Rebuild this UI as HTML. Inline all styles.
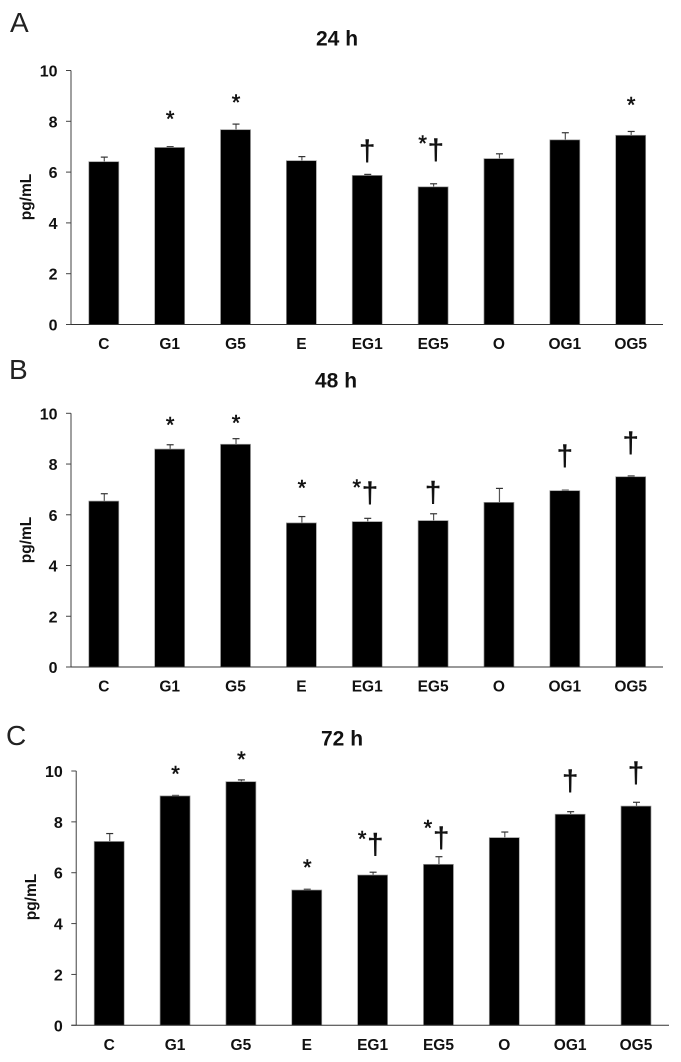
<!DOCTYPE html>
<html>
<head>
<meta charset="utf-8">
<title>pg/mL by group at 24, 48 and 72 h</title>
<style>
html,body{margin:0;padding:0;background:#fff;}
svg{display:block;}
text{font-family:"Liberation Sans",Arial,sans-serif;fill:#111;}
.b{font-weight:bold;}
.sig{stroke:#111;stroke-width:0.5px;}
</style>
</head>
<body>
<svg id="fig" xmlns="http://www.w3.org/2000/svg" width="681" height="1062" viewBox="0 0 681 1062"></svg>
<script>
var categories = ["C","G1","G5","E","EG1","EG5","O","OG1","OG5"];
var tickValues = [0,2,4,6,8,10];

var panelLetters = ["A","B","C"];
var panelTitles = ["24 h","48 h","72 h"];

var means24 = [6.41,6.97,7.67,6.45,5.87,5.42,6.53,7.27,7.45];
var upper24 = [6.59,7.00,7.89,6.61,5.91,5.54,6.72,7.55,7.60];
var star24 = [null,8.18,8.83,null,null,7.22,null,null,8.75];
var dagger24 = [null,null,null,null,6.87,6.90,null,null,null];

var means48 = [6.54,8.59,8.78,5.68,5.73,5.77,6.49,6.95,7.50];
var upper48 = [6.83,8.76,9.00,5.93,5.86,6.04,7.04,6.97,7.53];
var star48 = [null,9.63,9.71,7.15,7.18,null,null,null,null];
var dagger48 = [null,null,null,null,6.90,6.92,null,8.36,8.86];

var means72 = [7.23,9.02,9.58,5.32,5.91,6.33,7.38,8.30,8.62];
var upper72 = [7.54,9.04,9.65,5.35,6.02,6.63,7.60,8.40,8.77];
var star72 = [null,9.99,10.55,6.30,7.43,7.86,null,null,null];
var dagger72 = [null,null,null,null,7.15,7.41,null,9.65,9.97];

var NS = "http://www.w3.org/2000/svg";
var fig = document.getElementById("fig");

function make(parent, tag, attrs, txt) {
  var el = document.createElementNS(NS, tag);
  for (var k in attrs) el.setAttribute(k, attrs[k]);
  if (txt !== undefined) el.textContent = txt;
  parent.appendChild(el);
  return el;
}

function drawPanel(cfg, letter, title, means, upper, stars, daggers) {
  var g = make(fig, "g", {});
  
  

  function yScale(v) { return cfg.y0 + (cfg.y10 - cfg.y0) * v / 10; }
  function xScale(i) { return cfg.x0 + cfg.step * i; }

  var letterEl = make(g, "text", {x: cfg.letterX, y: cfg.letterY, "font-size": 28, style: "fill:#222"}, letter);
  
  

  var titleEl = make(g, "text", {x: cfg.titleX, y: cfg.titleY, "font-size": 21, "class": "b"}, title);
  
  

  var yTitle = make(g, "text", {
    transform: "translate(" + cfg.yTitleX + "," + cfg.yTitleY + ") rotate(-90)",
    "text-anchor": "middle", "font-size": 15.5, "class": "b"
  }, "pg/mL");
  
  

  categories.forEach(function (cat, i) {
    var cx = xScale(i);
    var top = yScale(means[i]);
    var capY = yScale(upper[i]);

    var whisker = make(g, "line", {x1: cx + 0.5, x2: cx + 0.5, y1: capY, y2: top, stroke: "#555", "stroke-width": 1.2});
    
    

    var cap = make(g, "line", {x1: cx - 3, x2: cx + 4, y1: capY, y2: capY, stroke: "#333", "stroke-width": 1.2});
    
    

    var bar = make(g, "rect", {
      x: cx - 15, y: top, width: 30, height: yScale(0) - top,
      fill: "#000", stroke: "#999", "stroke-width": 0.7
    });
    
    

    var label = make(g, "text", {x: cx, y: cfg.labelY, "text-anchor": "middle", "font-size": 15.5, "class": "b"}, cat);
    
    

    var both = stars[i] !== null && daggers[i] !== null;
    if (stars[i] !== null) {
      var star = make(g, "text", {
        x: cx + (both ? -10.5 : 0.5), y: yScale(stars[i]) + 10,
        "text-anchor": "middle", "font-size": 22, "class": "sig"
      }, "*");
      
      
    }
    if (daggers[i] !== null) {
      var dagger = make(g, "text", {
        x: cx + (both ? 2.7 : 0), y: yScale(daggers[i]) + 10.5,
        "text-anchor": "middle", "font-size": 29, "class": "sig"
      }, "\u2020");
      
      
    }
  });

  var yAxis = make(g, "line", {x1: cfg.axisX, x2: cfg.axisX, y1: yScale(10), y2: yScale(0), stroke: "#777", "stroke-width": 1.4});
  
  

  var xAxis = make(g, "line", {x1: cfg.axisX - 5, x2: cfg.axisEnd, y1: yScale(0), y2: yScale(0), stroke: "#333", "stroke-width": 1});
  
  

  tickValues.forEach(function (t) {
    var y = yScale(t);
    var tick = make(g, "line", {x1: cfg.axisX - 5, x2: cfg.axisX, y1: y, y2: y, stroke: "#444", "stroke-width": 1});
    
    

    var tl = make(g, "text", {x: cfg.axisX - 13.5, y: y + 6, "text-anchor": "end", "font-size": 16, "class": "b"}, String(t));
    
    
  });
}

drawPanel({y0:324.5,y10:70.5,x0:103.8,step:65.86,axisX:71,axisEnd:663,labelY:349,letterX:10,letterY:32,titleX:316,titleY:45.7,yTitleX:31,yTitleY:197},
  panelLetters[0], panelTitles[0], means24, upper24, star24, dagger24);
drawPanel({y0:667,y10:413.3,x0:103.8,step:65.86,axisX:71,axisEnd:663,labelY:691.7,letterX:9,letterY:379,titleX:315,titleY:387.7,yTitleX:31,yTitleY:540},
  panelLetters[1], panelTitles[1], means48, upper48, star48, dagger48);
drawPanel({y0:1025.3,y10:771,x0:109.2,step:65.85,axisX:76.3,axisEnd:669,labelY:1050,letterX:6,letterY:745,titleX:321,titleY:745.3,yTitleX:36,yTitleY:897},
  panelLetters[2], panelTitles[2], means72, upper72, star72, dagger72);
</script>
</body>
</html>
